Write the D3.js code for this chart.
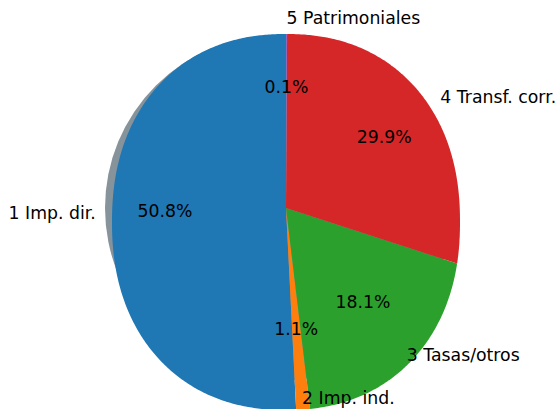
<!DOCTYPE html>
<html>
<head>
<meta charset="utf-8">
<script src="https://cdn.jsdelivr.net/npm/d3@7"></script>
<style>
  body { margin: 0; background: #fff; }
  svg { display: block; font-family: "DejaVu Sans", sans-serif; }
</style>
</head>
<body>
<svg id="chart" width="558" height="409"></svg>
<script>
var categories = ['1 Imp. dir.', '2 Imp. ind.', '3 Tasas/otros', '4 Transf. corr.', '5 Patrimoniales']
var shares = [50.8, 1.1, 18.1, 29.9, 0.1]
var colors = ['#1f77b4', '#ff7f0e', '#2ca02c', '#d62728', '#9467bd']

var width = 558
var height = 409
var cx = 286, cy = 208      // where the wedges meet
var radius = 173
// outer rim of the wedges is a bit taller than round in the picture
var rimCy = 222, rimRx = 174, rimRy = 188, rimP = 2.2

var svg = d3.select('#chart')

var pie = d3.pie()
    .sort(null)
    .startAngle(0)
    .endAngle(-2 * Math.PI)
    .value(function (d) { return d })

var arcs = pie(shares)

function insideRim(x, y) {
    return Math.pow(Math.abs(x - cx) / rimRx, rimP) + Math.pow(Math.abs(y - rimCy) / rimRy, rimP) <= 1
}

// point on the rim along angle a (d3 angle, clockwise from top)
function rimHit(a) {
    var dx = Math.sin(a), dy = -Math.cos(a)
    var lo = 0, hi = 260
    for (var k = 0; k < 40; k++) {
        var m = (lo + hi) / 2
        if (insideRim(cx + m * dx, cy + m * dy)) lo = m
        else hi = m
    }
    return [cx + lo * dx, cy + lo * dy]
}

var line = d3.line()

function wedgePath(d) {
    var n = Math.max(2, Math.ceil(Math.abs(d.endAngle - d.startAngle) / 0.01))
    var pts = [[cx, cy]]
    for (var i = 0; i <= n; i++) {
        pts.push(rimHit(d.startAngle + (d.endAngle - d.startAngle) * i / n))
    }
    return line(pts) + 'Z'
}

// shadow
svg.append('circle')
    .attr('cx', cx - 8)
    .attr('cy', cy)
    .attr('r', radius)
    .style('fill', '#87939b')

svg.selectAll('path.wedge')
    .data(arcs)
    .enter()
    .append('path')
    .attr('class', 'wedge')
    .attr('d', wedgePath)
    .style('fill', function (d, i) { return colors[i] })

function mid(d) { return (d.startAngle + d.endAngle) / 2 }

svg.selectAll('text.label')
    .data(arcs)
    .enter()
    .append('text')
    .attr('class', 'label')
    .attr('x', function (d) { return cx + 1.1 * radius * Math.sin(mid(d)) })
    .attr('y', function (d) { return cy - 1.1 * radius * Math.cos(mid(d)) })
    .attr('text-anchor', function (d) { return Math.sin(mid(d)) > 0 ? 'start' : 'end' })
    .attr('dominant-baseline', 'central')
    .style('font-size', '17.3px')
    .style('fill', '#000')
    .text(function (d, i) { return categories[i] })

svg.selectAll('text.pct')
    .data(arcs)
    .enter()
    .append('text')
    .attr('class', 'pct')
    .attr('x', function (d) { return cx + 0.7 * radius * Math.sin(mid(d)) })
    .attr('y', function (d) { return cy - 0.7 * radius * Math.cos(mid(d)) })
    .attr('text-anchor', 'middle')
    .attr('dominant-baseline', 'central')
    .style('font-size', '17.3px')
    .style('fill', '#000')
    .text(function (d) { return d.value.toFixed(1) + '%' })
</script>
</body>
</html>
